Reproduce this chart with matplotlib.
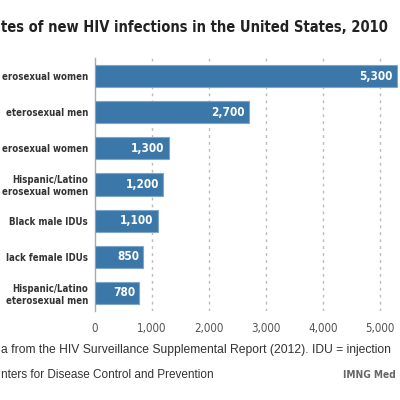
import matplotlib.pyplot as plt

# data (the reference is a crop, so labels are cut at the left edge)
groups = ['erosexual women', 'eterosexual men', 'erosexual women',
          'Hispanic/Latino\nerosexual women', 'Black male IDUs', 'lack female IDUs',
          'Hispanic/Latino\neterosexual men']
infections = [5300, 2700, 1300, 1200, 1100, 850, 780]
value_labels = ['5,300', '2,700', '1,300', '1,200', '1,100', '850', '780']
xticks = [0, 1000, 2000, 3000, 4000, 5000]
xtick_labels = ['0', '1,000', '2,000', '3,000', '4,000', '5,000']

plt.rcParams['font.family'] = ['DejaVu Sans']
plt.rcParams['font.stretch'] = 'condensed'

fig = plt.figure(figsize=(4, 4), dpi=100)
fig.patch.set_facecolor('white')
ax = fig.add_axes([0.2375, 0.2225, 0.7625, 0.6325])

y = list(range(len(groups)))
ax.barh(y, infections, height=0.61, color='#3b77a8', edgecolor='#7fa6c8', linewidth=0.8, zorder=3)

for i in y:
    ax.text(infections[i] - 80, i, value_labels[i], ha='right', va='center',
            color='white', fontsize=8.5, fontweight='bold', zorder=4)

ax.set_xlim(0, 5350)
ax.set_ylim(6.5, -0.5)
ax.set_yticks(y)
ax.set_yticklabels(groups, fontsize=6.9, fontweight='bold', color='#333333', linespacing=1.25)
ax.set_xticks(xticks)
ax.set_xticklabels(xtick_labels, fontsize=8.3, color='#555555')
ax.tick_params(length=0, axis='y', pad=5)
ax.tick_params(length=0, axis='x', pad=8)

# dashed vertical gridlines behind the bars
for g in xticks[1:]:
    ax.axvline(g, color='#bbbbbb', linestyle=(0, (2, 3)), linewidth=1, zorder=1)

for s in ['top', 'right', 'bottom']:
    ax.spines[s].set_visible(False)
ax.spines['left'].set_color('#aaaaaa')
ax.spines['left'].set_linewidth(1)

fig.text(0.97, 0.93, 'tes of new HIV infections in the United States, 2010',
         ha='right', va='center', fontsize=10.5, fontweight='bold', color='#222222')

fig.text(0.003, 0.125, 'a from the HIV Surveillance Supplemental Report (2012). IDU = injection',
         ha='left', va='center', fontsize=8.7, color='#333333', family='Liberation Sans')
fig.text(0.003, 0.062, 'nters for Disease Control and Prevention',
         ha='left', va='center', fontsize=8.5, color='#333333', family='Liberation Sans')
fig.text(0.99, 0.062, 'IMNG Med', ha='right', va='center',
         fontsize=7.3, fontweight='bold', color='#666666')

fig.savefig('out.png', dpi=100)
